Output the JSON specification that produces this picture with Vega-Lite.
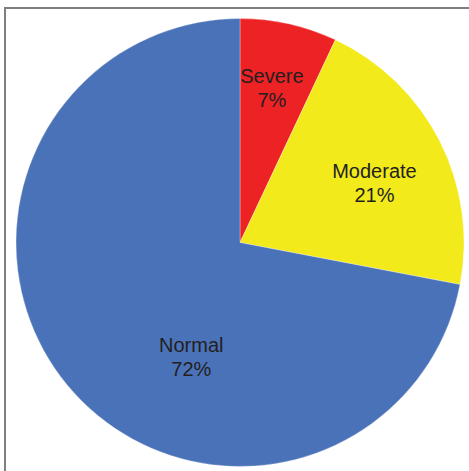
{
  "$schema": "https://vega.github.io/schema/vega-lite/v6.json",
  "width": 470,
  "height": 469,
  "autosize": {"type": "none"},
  "padding": {"left": 5, "top": 8, "right": 0, "bottom": 0},
  "background": "#ffffff",
  "view": {"stroke": "#7f7f7f", "strokeWidth": 2, "fill": "#ffffff"},
  "data": {
    "values": [
      {"category": "Severe", "value": 7},
      {"category": "Moderate", "value": 21},
      {"category": "Normal", "value": 72}
    ]
  },
  "transform": [
    {"calculate": "datum.category + '\\n' + datum.value + '%'", "as": "label"}
  ],
  "encoding": {
    "theta": {"field": "value", "type": "quantitative", "stack": true},
    "order": {"field": "value", "type": "quantitative", "sort": "ascending"}
  },
  "layer": [
    {
      "mark": {"type": "arc", "radius": 224, "stroke": "#ffffff", "strokeWidth": 0.3},
      "encoding": {
        "color": {
          "field": "category",
          "type": "nominal",
          "sort": ["Severe", "Moderate", "Normal"],
          "scale": {"domain": ["Severe", "Moderate", "Normal"], "range": ["#ED2224", "#F2EA1A", "#4A72B8"]},
          "legend": null
        }
      }
    },
    {
      "mark": {"type": "text", "radius": 169, "thetaOffset": -0.03, "font": "Liberation Sans", "fontSize": 20, "lineBreak": "\n", "lineHeight": 24, "color": "#231f20", "align": "center", "baseline": "middle"},
      "encoding": {
        "text": {"field": "label"},
        "opacity": {"condition": {"test": "datum.category == 'Severe'", "value": 1}, "value": 0}
      }
    },
    {
      "mark": {"type": "text", "radius": 152, "thetaOffset": -0.014, "font": "Liberation Sans", "fontSize": 20, "lineBreak": "\n", "lineHeight": 24, "color": "#231f20", "align": "center", "baseline": "middle"},
      "encoding": {
        "text": {"field": "label"},
        "opacity": {"condition": {"test": "datum.category == 'Moderate'", "value": 1}, "value": 0}
      }
    },
    {
      "mark": {"type": "text", "radius": 114, "thetaOffset": -0.438, "font": "Liberation Sans", "fontSize": 20, "lineBreak": "\n", "lineHeight": 24, "color": "#231f20", "align": "center", "baseline": "middle"},
      "encoding": {
        "text": {"field": "label"},
        "opacity": {"condition": {"test": "datum.category == 'Normal'", "value": 1}, "value": 0}
      }
    }
  ],
  "config": {"axis": {"disable": true}}
}
